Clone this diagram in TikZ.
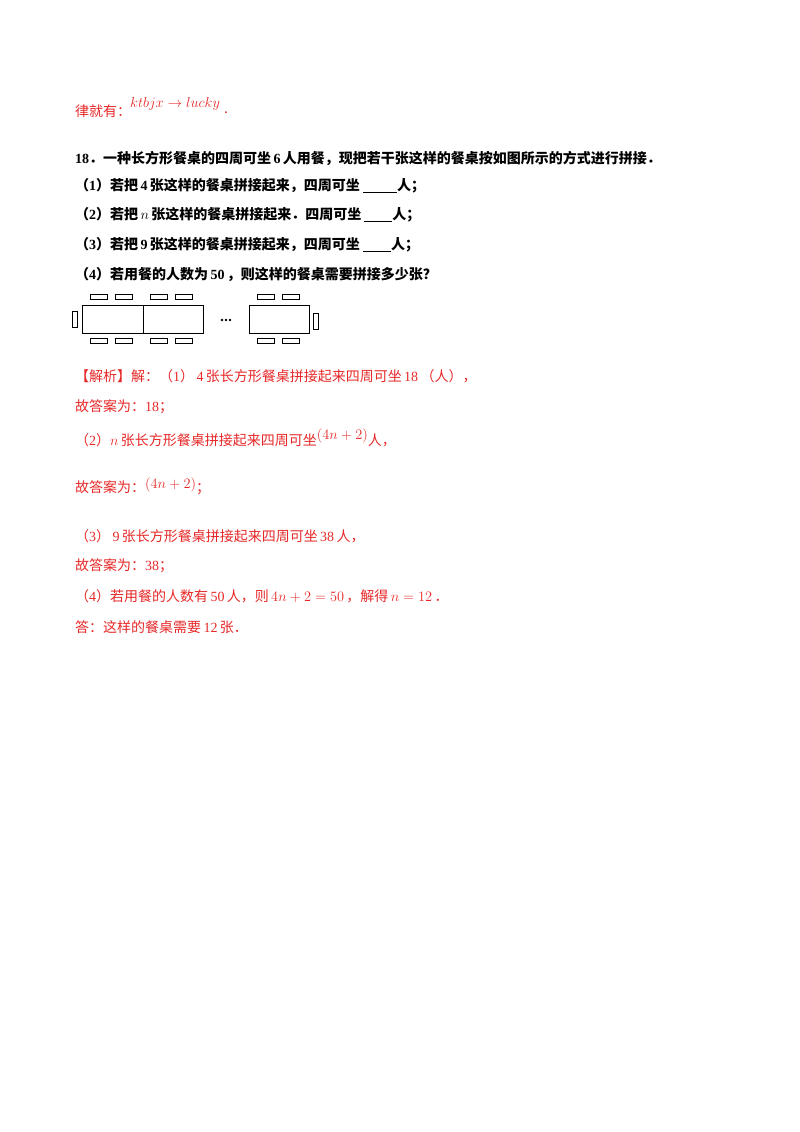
\documentclass[tikz,border=0pt]{standalone}
\usepackage{fontspec}
\setmainfont{Noto Sans CJK SC}
\newfontfamily\lat{Liberation Serif}
\newcommand\N[1]{{\lat\,#1\,}}
\newcommand\blank[1]{\underline{\hspace{#1}}}
\definecolor{myred}{RGB}{230,40,40}
\begin{document}
\begin{tikzpicture}[x=1pt,y=-1pt,
  txt/.style={anchor=west,inner sep=0pt,font=\fontsize{14}{16}\selectfont},
  q/.style={txt,font=\fontsize{14}{16}\selectfont\bfseries},
  ans/.style={txt,text=myred},
  tbl/.style={draw=black,line width=0.9pt},
  chair/.style={draw=black,line width=0.7pt}]
\useasboundingbox (0,0) rectangle (800,1132);
\node[ans] (l0) at (75,111) {律就有：};
\node[ans,anchor=west] (l0m) at (130,104) {$ktbjx\rightarrow lucky$};
\node[ans] (l0d) at (224,113) {.};
\node[q] (q0) at (75,158) {{\lat 18}．一种长方形餐桌的四周可坐\N{6}人用餐，现把若干张这样的餐桌按如图所示的方式进行拼接．};
\node[q] (q1) at (75,186) {（{\lat 1}）若把\N{4}张这样的餐桌拼接起来，四周可坐\ \blank{34pt}人；};
\node[q] (q2) at (75,215) {（{\lat 2}）若把\,$n$\,张这样的餐桌拼接起来．四周可坐\ \blank{28pt}人；};
\node[q] (q3) at (75,245) {（{\lat 3}）若把\N{9}张这样的餐桌拼接起来，四周可坐\ \blank{28pt}人；};
\node[q] (q4) at (75,275) {（{\lat 4}）若用餐的人数为\N{50}，则这样的餐桌需要拼接多少张？};
% tables
\draw[tbl] (82,305) rectangle (143,333);
\draw[tbl] (143,305) rectangle (203,333);
\draw[tbl] (249,305) rectangle (309,333);
\foreach \x in {90,115,150,175,257,282}{
  \draw[chair] (\x,294) rectangle ++(17,5);
  \draw[chair] (\x,338) rectangle ++(17,5);}
\draw[chair] (72,311) rectangle (77,327);
\draw[chair] (313,313) rectangle (318,329);
\node[inner sep=0pt,minimum size=12pt] (dots) at (226,320) {};
\foreach \dx in {-4,0,4} \fill ([xshift=\dx pt]dots.center) circle (1.3pt);
% answers
\node[ans] (a1) at (75,376) {【解析】解：（{\lat 1}）\N{4}张长方形餐桌拼接起来四周可坐\N{18}（人），};
\node[ans] (a2) at (75,407) {故答案为：{\lat 18}；};
\node[ans] (a3) at (75,438) {（{\lat 2}）$n$\,张长方形餐桌拼接起来四周可坐\raisebox{6pt}{$(4n+2)$}人，};
\node[ans] (a4) at (75,486) {故答案为：\raisebox{4pt}{$(4n+2)$}；};
\node[ans] (a5) at (75,536) {（{\lat 3}）\N{9}张长方形餐桌拼接起来四周可坐\N{38}人，};
\node[ans] (a6) at (75,566) {故答案为：{\lat 38}；};
\node[ans] (a7) at (75,596) {（{\lat 4}）若用餐的人数有\N{50}人，则\,$4n+2=50$\,，解得\,$n=12$\,．};
\node[ans] (a8) at (75,627) {答：这样的餐桌需要\N{12}张．};
\end{tikzpicture}
\end{document}
